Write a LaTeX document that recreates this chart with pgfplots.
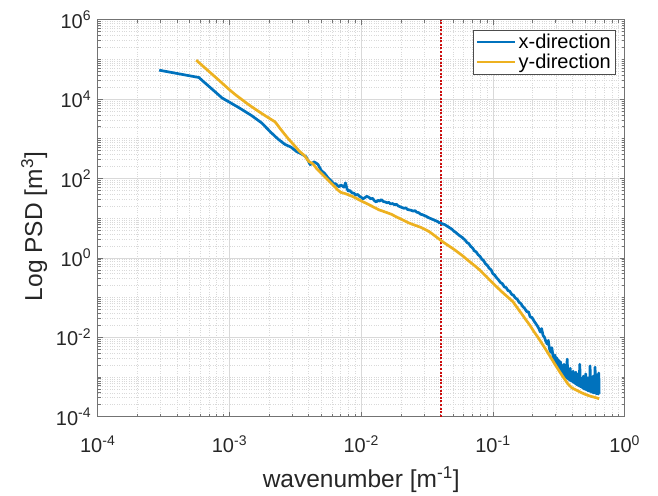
\documentclass[border=0pt]{standalone}
\usepackage{pgfplots}
\pgfplotsset{compat=1.18}
\usepackage{fontspec}
\setmainfont{Liberation Sans}
\definecolor{mblue}{rgb}{0,0.447,0.741}
\definecolor{myellow}{rgb}{0.929,0.694,0.125}
\definecolor{mred}{rgb}{0.80,0.05,0.05}
\definecolor{axgray}{rgb}{0.45,0.45,0.45}
\begin{document}
\begin{tikzpicture}
\begin{axis}[
  name=ax,
  scale only axis, width=527pt, height=397pt,
  xmode=log, ymode=log,
  xmin=1e-4, xmax=1, ymin=1e-4, ymax=1e6,
  xtick={1e-4,1e-3,1e-2,1e-1,1},
  xticklabels={10\textsuperscript{-4},10\textsuperscript{-3},10\textsuperscript{-2},10\textsuperscript{-1},10\textsuperscript{0}},
  ytick={1e-4,1e-2,1,1e2,1e4,1e6},
  yticklabels={10\textsuperscript{-4},10\textsuperscript{-2},10\textsuperscript{0},10\textsuperscript{2},10\textsuperscript{4},10\textsuperscript{6}},
  minor xtick={2e-4,3e-4,4e-4,5e-4,6e-4,7e-4,8e-4,9e-4,
               2e-3,3e-3,4e-3,5e-3,6e-3,7e-3,8e-3,9e-3,
               2e-2,3e-2,4e-2,5e-2,6e-2,7e-2,8e-2,9e-2,
               2e-1,3e-1,4e-1,5e-1,6e-1,7e-1,8e-1,9e-1},
  minor ytick={2e-4,3e-4,4e-4,5e-4,6e-4,7e-4,8e-4,9e-4,1e-3,
               2e-3,3e-3,4e-3,5e-3,6e-3,7e-3,8e-3,9e-3,
               2e-2,3e-2,4e-2,5e-2,6e-2,7e-2,8e-2,9e-2,1e-1,
               2e-1,3e-1,4e-1,5e-1,6e-1,7e-1,8e-1,9e-1,
               2,3,4,5,6,7,8,9,10,
               20,30,40,50,60,70,80,90,
               200,300,400,500,600,700,800,900,1000,
               2000,3000,4000,5000,6000,7000,8000,9000,
               2e4,3e4,4e4,5e4,6e4,7e4,8e4,9e4,1e5,
               2e5,3e5,4e5,5e5,6e5,7e5,8e5,9e5},
  grid=both,
  major grid style={draw=black!15, line width=0.7pt},
  minor grid style={draw=black!15, dotted, line width=0.6pt},
  axis line style={draw=axgray, line width=0.9pt},
  every tick/.style={draw=axgray, line width=0.7pt},
  major tick length=5pt, minor tick length=3pt,
  tick label style={font=\fontsize{20}{22}\selectfont, text=black!85},
  xticklabel style={anchor=base, yshift=-36pt},
  yticklabel style={anchor=east, xshift=-3pt},
  label style={font=\fontsize{24.5}{27}\selectfont, text=black!85},
  xlabel={wavenumber [m\textsuperscript{-1}]},
  ylabel={Log PSD [m\textsuperscript{3}]},
  xlabel style={at={(axis description cs:0.5,-0.1795)}, anchor=base},
  ylabel style={at={(axis description cs:-0.1056,0.479)}, anchor=base, rotate=0},
  legend style={at={(0.984,0.975)}, anchor=north east, draw=black!70, line width=0.8pt,
    font=\fontsize{20}{23}\selectfont, inner xsep=3pt, inner ysep=2pt, row sep=0pt},
  legend cell align=left,
  legend image code/.code={\draw[#1] (0pt,0pt) -- (38pt,0pt);},
]
\addplot[mred, line width=2pt, dash pattern=on 2pt off 1.6pt, forget plot] coordinates {(0.0405,1e-4) (0.0405,1e6)};
\addplot[mblue, line width=2.7pt, line join=round] coordinates {
(2.93e-4,5.35e4) (5.86e-4,3.50e4) (8.79e-4,1.07e4) (1.172e-3,6.17e3) (1.465e-3,3.89e3)
(1.758e-3,2.51e3) (2.051e-3,1.48e3) (2.344e-3,977) (2.637e-3,724) (2.93e-3,617)
(3.223e-3,479) (3.516e-3,417) (3.809e-3,355) (4.102e-3,224) (4.395e-3,263)
(4.688e-3,229) (4.981e-3,158) (5.274e-3,135) (5.567e-3,107) (5.86e-3,89.1)
(0.0060,83.2) (0.0062,72.4) (0.0064,74.1) (0.0066,66.1) (0.0068,61.7) (0.0070,69.2)
(0.0072,64.6) (0.0074,60.3) (0.0076,77.6) (0.0078,55.0) (0.0080,47.9) (0.0082,50.1)
(0.0085,43.7) (0.0088,42.7) (0.0091,38.0) (0.0094,39.8) (0.0097,35.5) (0.0100,33.9)
(0.0103,30.9) (0.0106,32.4) (0.0110,35.5) (0.0114,33.9) (0.0118,30.9) (0.0122,31.6)
(0.0126,27.5) (0.0130,25.7) (0.0134,28.2) (0.0138,26.9) (0.0142,29.5) (0.0147,26.3)
(0.0152,25.7) (0.0157,24.5) (0.0162,25.1) (0.0167,22.9) (0.0173,23.4) (0.0179,21.9)
(0.0185,22.4) (0.0191,20.4) (0.0197,19.5) (0.0204,18.6) (0.0211,17.8) (0.0218,18.2)
(0.0225,16.6) (0.0232,16.2) (0.0240,15.8) (0.0248,15.1) (0.0256,15.5) (0.0264,14.1)
(0.0273,13.8) (0.0282,12.6) (0.0291,12.3) (0.0301,11.7) (0.0311,11.2) (0.0321,10.5)
(0.0332,10.0) (0.0343,9.55) (0.0354,9.12) (0.0366,8.71) (0.0378,8.32) (0.0390,7.76)
(0.0403,7.59) (0.0416,7.08) (0.0430,6.92) (0.0444,6.46) (0.0459,6.03) (0.0474,5.62)
(0.0490,5.25) (0.0506,4.68) (0.0523,4.37) (0.0540,3.98) (0.0558,3.63) (0.0576,3.39)
(0.0595,3.09) (0.0615,2.82) (0.0635,2.45) (0.0656,2.29) (0.0678,1.95) (0.0700,1.78)
(0.0723,1.51) (0.0747,1.41) (0.0772,1.20) (0.0797,1.10) (0.0823,0.933) (0.0850,0.851)
(0.0878,0.708) (0.0907,0.646) (0.0937,0.550) (0.0968,0.501) (0.100,0.398) (0.103,0.372)
(0.107,0.309) (0.110,0.282) (0.114,0.240) (0.118,0.224) (0.122,0.186) (0.126,0.178)
(0.130,0.151) (0.134,0.145) (0.139,0.120) (0.143,0.115) (0.148,0.0977) (0.153,0.0912)
(0.158,0.0759) (0.163,0.0708) (0.168,0.0603) (0.174,0.0537) (0.180,0.0447) (0.186,0.0437)
(0.192,0.0324) (0.198,0.0316) (0.204,0.0263) (0.210,0.0229) (0.216,0.0200) (0.223,0.0166)
(0.229,0.0135) (0.234,0.0166) (0.240,0.0112) (0.246,0.0100) (0.252,0.00794) (0.258,0.00676)
(0.263,0.00832) (0.269,0.00501) (0.275,0.00417) (0.280,0.00550) (0.286,0.00316) (0.291,0.00240)
(0.296,0.00355) (0.301,0.00200) (0.306,0.00302) (0.311,0.00166) (0.316,0.00263) (0.321,0.00141)
(0.326,0.00240) (0.331,0.00126) (0.336,0.00191) (0.341,0.00110) (0.346,0.00209) (0.351,0.00100)
(0.356,0.00158) (0.361,0.000955) (0.366,0.00282) (0.371,0.000891) (0.376,0.00141) (0.381,0.000832)
(0.386,0.00166) (0.391,0.000794) (0.396,0.00126) (0.401,0.000759) (0.406,0.00141) (0.411,0.000724)
(0.416,0.00112) (0.421,0.000676) (0.426,0.00132) (0.431,0.000646) (0.436,0.00100) (0.441,0.000617)
(0.446,0.00120) (0.451,0.000589) (0.456,0.00209) (0.461,0.000575) (0.466,0.000955) (0.471,0.000550)
(0.476,0.000832) (0.481,0.000525) (0.486,0.00105) (0.491,0.000501) (0.496,0.000794) (0.501,0.000490)
(0.506,0.00120) (0.511,0.000479) (0.516,0.000759) (0.521,0.000457) (0.526,0.000955) (0.531,0.000447)
(0.536,0.000708) (0.541,0.000437) (0.546,0.00191) (0.551,0.000427) (0.556,0.000891) (0.561,0.000417)
(0.566,0.000661) (0.571,0.000407) (0.576,0.00105) (0.581,0.000398) (0.586,0.000708) (0.591,0.000398)
(0.596,0.00178) (0.601,0.000389) (0.606,0.000794) (0.611,0.000380) (0.616,0.00112) (0.621,0.000380)
(0.626,0.000891) (0.631,0.000372) (0.636,0.00126) (0.640,0.000380)
};
\addlegendentry{x-direction}
\addplot[myellow, line width=2.7pt, line join=round] coordinates {
(5.6e-4,9.55e4) (8.4e-4,2.90e4) (1.0e-3,1.72e4) (1.12e-3,1.26e4) (1.4e-3,7.24e3)
(1.68e-3,4.79e3) (1.96e-3,3.45e3) (2.22e-3,2.67e3) (2.5e-3,1.59e3) (2.8e-3,1.00e3)
(3.1e-3,686) (3.4e-3,484) (3.7e-3,380) (4.0e-3,269) (4.3e-3,234) (4.6e-3,176)
(4.9e-3,143) (5.2e-3,117) (5.5e-3,97.7) (5.8e-3,81.8) (6.2e-3,65.5) (6.6e-3,52.5)
(7.0e-3,44.7) (7.5e-3,42.0) (8.0e-3,38.9) (8.6e-3,35.2) (9.3e-3,30.9) (0.010,27.3)
(0.0108,24.1) (0.0117,21.1) (0.0126,18.6) (0.0136,16.3) (0.0147,14.9) (0.0158,13.7)
(0.0170,12.5) (0.0183,11.0) (0.0197,9.77) (0.0212,8.67) (0.0228,7.69) (0.0245,7.0)
(0.0264,6.41) (0.0284,5.86) (0.0305,5.21) (0.0328,4.60) (0.0353,3.85) (0.0380,3.19)
(0.0409,2.65) (0.0440,2.24) (0.0473,1.91) (0.0509,1.62) (0.0548,1.35) (0.0590,1.12)
(0.0635,0.912) (0.0683,0.750) (0.0735,0.617) (0.0791,0.501) (0.0851,0.394) (0.0916,0.309)
(0.0986,0.241) (0.106,0.191) (0.114,0.151) (0.123,0.120) (0.132,0.0977) (0.142,0.0785)
(0.153,0.0553) (0.165,0.0393) (0.177,0.0282) (0.191,0.0200) (0.205,0.0138) (0.221,0.00966)
(0.238,0.00661) (0.256,0.00452) (0.275,0.00309) (0.296,0.00207) (0.319,0.00140) (0.343,0.000977)
(0.369,0.000681) (0.397,0.000531) (0.427,0.000473) (0.460,0.000417) (0.495,0.000372) (0.533,0.000339)
(0.574,0.000316) (0.618,0.000295) (0.640,0.000282)
};
\addlegendentry{y-direction}
\end{axis}
\pgfresetboundingbox
\path[use as bounding box] ([shift={(-97.7pt,-78.3pt)}]ax.south west) rectangle ++(658pt,495pt);
\end{tikzpicture}
\end{document}
